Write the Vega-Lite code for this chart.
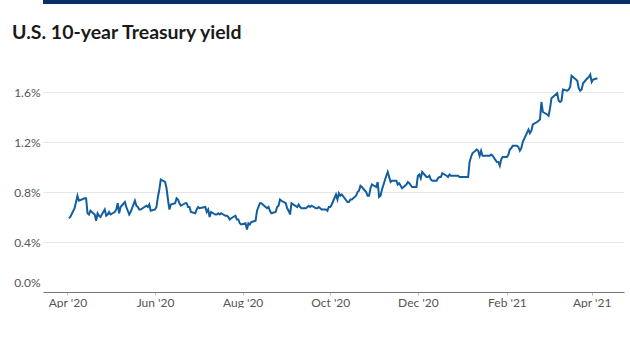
{
  "$schema": "https://vega.github.io/schema/vega-lite/v6.json",
  "padding": 0,
  "background": "white",
  "config": {"font": "Lato", "view": {"stroke": null}},
  "columns": 1,
  "align": "none",
  "spacing": 18,
  "concat": [
    {
      "width": 630,
      "height": 4,
      "view": {"fill": "#0c2d66", "stroke": null},
      "data": {"values": [{"k": 1}]},
      "mark": {"type": "rect", "color": "#0c2d66"},
      "encoding": {}
    },
    {
      "width": 581,
      "height": 225,
      "title": {"text": "U.S. 10-year Treasury yield", "anchor": "start", "fontSize": 19.5, "fontWeight": "bold", "color": "#1a1a1a", "dx": 12, "offset": 24},
      "data": {"values": [
        {"date": "2020-04-02", "yield": 0.59}, {"date": "2020-04-03", "yield": 0.60}, {"date": "2020-04-06", "yield": 0.67}, {"date": "2020-04-07", "yield": 0.72}, {"date": "2020-04-08", "yield": 0.77}, {"date": "2020-04-09", "yield": 0.73}, {"date": "2020-04-13", "yield": 0.75}, {"date": "2020-04-14", "yield": 0.75}, {"date": "2020-04-15", "yield": 0.63}, {"date": "2020-04-16", "yield": 0.62}, {"date": "2020-04-17", "yield": 0.65}, {"date": "2020-04-20", "yield": 0.62}, {"date": "2020-04-21", "yield": 0.57}, {"date": "2020-04-22", "yield": 0.63}, {"date": "2020-04-23", "yield": 0.61}, {"date": "2020-04-24", "yield": 0.60}, {"date": "2020-04-27", "yield": 0.66}, {"date": "2020-04-28", "yield": 0.61}, {"date": "2020-04-29", "yield": 0.62}, {"date": "2020-04-30", "yield": 0.64},
        {"date": "2020-05-01", "yield": 0.62}, {"date": "2020-05-04", "yield": 0.64}, {"date": "2020-05-05", "yield": 0.66}, {"date": "2020-05-06", "yield": 0.71}, {"date": "2020-05-07", "yield": 0.63}, {"date": "2020-05-08", "yield": 0.68}, {"date": "2020-05-11", "yield": 0.72}, {"date": "2020-05-12", "yield": 0.68}, {"date": "2020-05-13", "yield": 0.65}, {"date": "2020-05-14", "yield": 0.62}, {"date": "2020-05-15", "yield": 0.64}, {"date": "2020-05-18", "yield": 0.73}, {"date": "2020-05-19", "yield": 0.69}, {"date": "2020-05-20", "yield": 0.68}, {"date": "2020-05-21", "yield": 0.66}, {"date": "2020-05-22", "yield": 0.66}, {"date": "2020-05-26", "yield": 0.69}, {"date": "2020-05-27", "yield": 0.68}, {"date": "2020-05-28", "yield": 0.70}, {"date": "2020-05-29", "yield": 0.65},
        {"date": "2020-06-01", "yield": 0.66}, {"date": "2020-06-02", "yield": 0.68}, {"date": "2020-06-03", "yield": 0.76}, {"date": "2020-06-04", "yield": 0.82}, {"date": "2020-06-05", "yield": 0.90}, {"date": "2020-06-08", "yield": 0.88}, {"date": "2020-06-09", "yield": 0.83}, {"date": "2020-06-10", "yield": 0.74}, {"date": "2020-06-11", "yield": 0.66}, {"date": "2020-06-12", "yield": 0.70}, {"date": "2020-06-15", "yield": 0.71}, {"date": "2020-06-16", "yield": 0.75}, {"date": "2020-06-17", "yield": 0.74}, {"date": "2020-06-18", "yield": 0.71}, {"date": "2020-06-19", "yield": 0.69}, {"date": "2020-06-22", "yield": 0.71}, {"date": "2020-06-23", "yield": 0.71}, {"date": "2020-06-24", "yield": 0.68}, {"date": "2020-06-25", "yield": 0.68}, {"date": "2020-06-26", "yield": 0.64}, {"date": "2020-06-29", "yield": 0.63}, {"date": "2020-06-30", "yield": 0.66},
        {"date": "2020-07-01", "yield": 0.68}, {"date": "2020-07-02", "yield": 0.67}, {"date": "2020-07-06", "yield": 0.68}, {"date": "2020-07-07", "yield": 0.64}, {"date": "2020-07-08", "yield": 0.66}, {"date": "2020-07-09", "yield": 0.60}, {"date": "2020-07-10", "yield": 0.64}, {"date": "2020-07-13", "yield": 0.62}, {"date": "2020-07-14", "yield": 0.62}, {"date": "2020-07-15", "yield": 0.63}, {"date": "2020-07-16", "yield": 0.62}, {"date": "2020-07-17", "yield": 0.63}, {"date": "2020-07-20", "yield": 0.61}, {"date": "2020-07-21", "yield": 0.61}, {"date": "2020-07-22", "yield": 0.60}, {"date": "2020-07-23", "yield": 0.58}, {"date": "2020-07-24", "yield": 0.59}, {"date": "2020-07-27", "yield": 0.61}, {"date": "2020-07-28", "yield": 0.58}, {"date": "2020-07-29", "yield": 0.58}, {"date": "2020-07-30", "yield": 0.55}, {"date": "2020-07-31", "yield": 0.54},
        {"date": "2020-08-03", "yield": 0.55}, {"date": "2020-08-04", "yield": 0.50}, {"date": "2020-08-05", "yield": 0.55}, {"date": "2020-08-06", "yield": 0.54}, {"date": "2020-08-07", "yield": 0.56}, {"date": "2020-08-10", "yield": 0.57}, {"date": "2020-08-11", "yield": 0.65}, {"date": "2020-08-12", "yield": 0.68}, {"date": "2020-08-13", "yield": 0.71}, {"date": "2020-08-14", "yield": 0.71}, {"date": "2020-08-17", "yield": 0.68}, {"date": "2020-08-18", "yield": 0.67}, {"date": "2020-08-19", "yield": 0.68}, {"date": "2020-08-20", "yield": 0.65}, {"date": "2020-08-21", "yield": 0.63}, {"date": "2020-08-24", "yield": 0.64}, {"date": "2020-08-25", "yield": 0.68}, {"date": "2020-08-26", "yield": 0.69}, {"date": "2020-08-27", "yield": 0.74}, {"date": "2020-08-28", "yield": 0.73}, {"date": "2020-08-31", "yield": 0.71},
        {"date": "2020-09-01", "yield": 0.67}, {"date": "2020-09-02", "yield": 0.65}, {"date": "2020-09-03", "yield": 0.62}, {"date": "2020-09-04", "yield": 0.71}, {"date": "2020-09-08", "yield": 0.68}, {"date": "2020-09-09", "yield": 0.70}, {"date": "2020-09-10", "yield": 0.68}, {"date": "2020-09-11", "yield": 0.67}, {"date": "2020-09-14", "yield": 0.67}, {"date": "2020-09-15", "yield": 0.68}, {"date": "2020-09-16", "yield": 0.69}, {"date": "2020-09-17", "yield": 0.68}, {"date": "2020-09-18", "yield": 0.69}, {"date": "2020-09-21", "yield": 0.67}, {"date": "2020-09-22", "yield": 0.67}, {"date": "2020-09-23", "yield": 0.68}, {"date": "2020-09-24", "yield": 0.67}, {"date": "2020-09-25", "yield": 0.66}, {"date": "2020-09-28", "yield": 0.66}, {"date": "2020-09-29", "yield": 0.65}, {"date": "2020-09-30", "yield": 0.68},
        {"date": "2020-10-01", "yield": 0.68}, {"date": "2020-10-02", "yield": 0.70}, {"date": "2020-10-05", "yield": 0.78}, {"date": "2020-10-06", "yield": 0.74}, {"date": "2020-10-07", "yield": 0.79}, {"date": "2020-10-08", "yield": 0.77}, {"date": "2020-10-09", "yield": 0.78}, {"date": "2020-10-13", "yield": 0.72}, {"date": "2020-10-14", "yield": 0.72}, {"date": "2020-10-15", "yield": 0.74}, {"date": "2020-10-16", "yield": 0.74}, {"date": "2020-10-19", "yield": 0.77}, {"date": "2020-10-20", "yield": 0.80}, {"date": "2020-10-21", "yield": 0.81}, {"date": "2020-10-22", "yield": 0.85}, {"date": "2020-10-23", "yield": 0.84}, {"date": "2020-10-26", "yield": 0.80}, {"date": "2020-10-27", "yield": 0.77}, {"date": "2020-10-28", "yield": 0.77}, {"date": "2020-10-29", "yield": 0.83}, {"date": "2020-10-30", "yield": 0.86},
        {"date": "2020-11-02", "yield": 0.84}, {"date": "2020-11-03", "yield": 0.88}, {"date": "2020-11-04", "yield": 0.76}, {"date": "2020-11-05", "yield": 0.77}, {"date": "2020-11-06", "yield": 0.82}, {"date": "2020-11-09", "yield": 0.93}, {"date": "2020-11-10", "yield": 0.96}, {"date": "2020-11-12", "yield": 0.88}, {"date": "2020-11-13", "yield": 0.89}, {"date": "2020-11-16", "yield": 0.89}, {"date": "2020-11-17", "yield": 0.86}, {"date": "2020-11-18", "yield": 0.87}, {"date": "2020-11-19", "yield": 0.85}, {"date": "2020-11-20", "yield": 0.83}, {"date": "2020-11-23", "yield": 0.86}, {"date": "2020-11-24", "yield": 0.88}, {"date": "2020-11-25", "yield": 0.87}, {"date": "2020-11-27", "yield": 0.84}, {"date": "2020-11-30", "yield": 0.84},
        {"date": "2020-12-01", "yield": 0.93}, {"date": "2020-12-02", "yield": 0.94}, {"date": "2020-12-03", "yield": 0.91}, {"date": "2020-12-04", "yield": 0.96}, {"date": "2020-12-07", "yield": 0.92}, {"date": "2020-12-08", "yield": 0.92}, {"date": "2020-12-09", "yield": 0.93}, {"date": "2020-12-10", "yield": 0.90}, {"date": "2020-12-11", "yield": 0.89}, {"date": "2020-12-14", "yield": 0.89}, {"date": "2020-12-15", "yield": 0.91}, {"date": "2020-12-16", "yield": 0.92}, {"date": "2020-12-17", "yield": 0.92}, {"date": "2020-12-18", "yield": 0.95}, {"date": "2020-12-21", "yield": 0.93}, {"date": "2020-12-22", "yield": 0.92}, {"date": "2020-12-23", "yield": 0.94}, {"date": "2020-12-24", "yield": 0.93}, {"date": "2020-12-28", "yield": 0.93}, {"date": "2020-12-29", "yield": 0.93}, {"date": "2020-12-30", "yield": 0.92}, {"date": "2020-12-31", "yield": 0.92},
        {"date": "2021-01-04", "yield": 0.92}, {"date": "2021-01-05", "yield": 0.92}, {"date": "2021-01-06", "yield": 1.04}, {"date": "2021-01-07", "yield": 1.08}, {"date": "2021-01-08", "yield": 1.11}, {"date": "2021-01-11", "yield": 1.14}, {"date": "2021-01-12", "yield": 1.13}, {"date": "2021-01-13", "yield": 1.09}, {"date": "2021-01-14", "yield": 1.13}, {"date": "2021-01-15", "yield": 1.09}, {"date": "2021-01-19", "yield": 1.09}, {"date": "2021-01-20", "yield": 1.09}, {"date": "2021-01-21", "yield": 1.10}, {"date": "2021-01-22", "yield": 1.09}, {"date": "2021-01-25", "yield": 1.04}, {"date": "2021-01-26", "yield": 1.04}, {"date": "2021-01-27", "yield": 1.01}, {"date": "2021-01-28", "yield": 1.06}, {"date": "2021-01-29", "yield": 1.08},
        {"date": "2021-02-01", "yield": 1.08}, {"date": "2021-02-02", "yield": 1.10}, {"date": "2021-02-03", "yield": 1.14}, {"date": "2021-02-04", "yield": 1.15}, {"date": "2021-02-05", "yield": 1.17}, {"date": "2021-02-08", "yield": 1.17}, {"date": "2021-02-09", "yield": 1.16}, {"date": "2021-02-10", "yield": 1.13}, {"date": "2021-02-11", "yield": 1.15}, {"date": "2021-02-12", "yield": 1.20}, {"date": "2021-02-16", "yield": 1.30}, {"date": "2021-02-17", "yield": 1.27}, {"date": "2021-02-18", "yield": 1.29}, {"date": "2021-02-19", "yield": 1.34}, {"date": "2021-02-22", "yield": 1.36}, {"date": "2021-02-23", "yield": 1.37}, {"date": "2021-02-24", "yield": 1.38}, {"date": "2021-02-25", "yield": 1.52}, {"date": "2021-02-26", "yield": 1.44},
        {"date": "2021-03-01", "yield": 1.42}, {"date": "2021-03-02", "yield": 1.41}, {"date": "2021-03-03", "yield": 1.47}, {"date": "2021-03-04", "yield": 1.55}, {"date": "2021-03-05", "yield": 1.56}, {"date": "2021-03-08", "yield": 1.59}, {"date": "2021-03-09", "yield": 1.53}, {"date": "2021-03-10", "yield": 1.52}, {"date": "2021-03-11", "yield": 1.53}, {"date": "2021-03-12", "yield": 1.62}, {"date": "2021-03-15", "yield": 1.61}, {"date": "2021-03-16", "yield": 1.62}, {"date": "2021-03-17", "yield": 1.64}, {"date": "2021-03-18", "yield": 1.73}, {"date": "2021-03-19", "yield": 1.72}, {"date": "2021-03-22", "yield": 1.69}, {"date": "2021-03-23", "yield": 1.63}, {"date": "2021-03-24", "yield": 1.61}, {"date": "2021-03-25", "yield": 1.62}, {"date": "2021-03-26", "yield": 1.67}, {"date": "2021-03-29", "yield": 1.71}, {"date": "2021-03-30", "yield": 1.72}, {"date": "2021-03-31", "yield": 1.74},
        {"date": "2021-04-01", "yield": 1.68}, {"date": "2021-04-02", "yield": 1.70}, {"date": "2021-04-05", "yield": 1.71}
      ]},
      "mark": {"type": "line", "color": "#135e9f", "strokeWidth": 2},
      "encoding": {
        "x": {
          "field": "date",
          "type": "temporal",
          "scale": {"type": "utc", "domain": [{"year": 2020, "month": 3, "date": 15, "utc": true}, {"year": 2021, "month": 4, "date": 23, "hours": 12, "utc": true}]},
          "axis": {
            "title": null,
            "values": [
              {"year": 2020, "month": 4, "date": 1, "utc": true},
              {"year": 2020, "month": 6, "date": 1, "utc": true},
              {"year": 2020, "month": 8, "date": 1, "utc": true},
              {"year": 2020, "month": 10, "date": 1, "utc": true},
              {"year": 2020, "month": 12, "date": 1, "utc": true},
              {"year": 2021, "month": 2, "date": 1, "utc": true},
              {"year": 2021, "month": 4, "date": 1, "utc": true}
            ],
            "format": "%b '%y",
            "grid": false,
            "domainColor": "#777777",
            "tickColor": "#bbbbbb",
            "tickSize": 3,
            "labelPadding": 2,
            "labelFontSize": 12,
            "labelColor": "#555555"
          }
        },
        "y": {
          "field": "yield",
          "type": "quantitative",
          "scale": {"domain": [0, 1.8], "nice": false},
          "axis": {
            "title": ".",
            "titleColor": "#ffffff",
            "titleX": -43,
            "titleY": 0,
            "titleAngle": 0,
            "titleAlign": "left",
            "titleBaseline": "top",
            "titleFontSize": 10,
            "values": [0, 0.4, 0.8, 1.2, 1.6],
            "labelExpr": "format(datum.value, '.1f') + '%'",
            "grid": true,
            "gridColor": "#e6e6e6",
            "domain": false,
            "ticks": false,
            "labelPadding": 3,
            "labelFlush": true,
            "labelFlushOffset": -3,
            "labelFontSize": 12,
            "labelColor": "#555555"
          }
        }
      }
    }
  ]
}
